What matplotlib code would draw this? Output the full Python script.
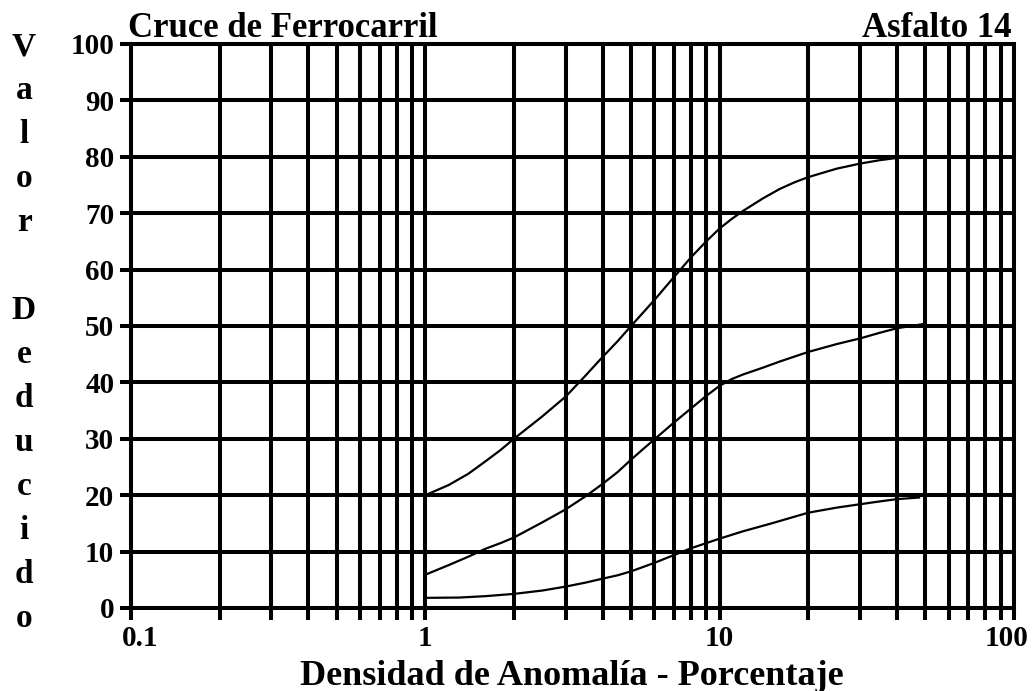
import matplotlib
matplotlib.use("Agg")
import matplotlib.pyplot as plt
from matplotlib.ticker import FixedLocator, NullFormatter, FixedFormatter
from matplotlib.transforms import ScaledTranslation

# Deduct-value curves (density % vs. deduct value)
x_high = [1, 1.2, 1.4, 1.6, 1.8, 2, 2.5, 3, 3.5, 4, 4.5, 5, 6, 7, 8, 9, 10,
          11, 12, 14, 16, 18, 20, 25, 30, 35, 40]
y_high = [20, 21.8, 23.8, 26, 28, 30, 34, 37.5, 41.2, 44.5, 47.3, 50, 54.6, 58.7, 62.2, 65, 67.3,
          69, 70.4, 72.6, 74.3, 75.5, 76.4, 77.9, 78.8, 79.4, 79.8]

x_medium = [1, 1.2, 1.4, 1.6, 1.8, 2, 2.5, 3, 3.5, 4, 4.5, 5, 5.5, 6, 7, 8, 9, 10,
            11, 12, 14, 16, 20, 25, 30, 35, 40, 50]
y_medium = [5.9, 7.6, 9.1, 10.5, 11.5, 12.5, 15.2, 17.5, 19.8, 22, 24.1, 26.3, 28.2, 29.9, 32.9, 35.4, 37.6, 39.4,
            40.6, 41.4, 42.6, 43.7, 45.4, 46.8, 47.8, 48.8, 49.6, 50.4]

x_low = [1, 1.3, 1.6, 2, 2.5, 3, 3.5, 4, 4.5, 5, 6, 7, 8, 9, 10,
         12, 15, 20, 25, 30, 35, 40, 48]
y_low = [1.8, 1.85, 2.1, 2.5, 3.1, 3.8, 4.5, 5.2, 5.8, 6.5, 8.0, 9.4, 10.6, 11.5, 12.3,
         13.6, 15.0, 16.9, 17.8, 18.4, 18.9, 19.3, 19.6]

x_major = [0.1, 1, 10, 100]
x_major_labels = ["0.1", "1", "10", "100"]
x_minor = [m * d for d in (0.1, 1, 10) for m in range(2, 10)]
y_major = list(range(0, 101, 10))

title_left = "Cruce de Ferrocarril"
title_right = "Asfalto 14"
x_title = "Densidad de Anomalía - Porcentaje"
y_title = "Valor Deducido"

FONT = "Liberation Serif"
W, H = 1034, 691
fig = plt.figure(figsize=(W / 100, H / 100), dpi=100)
ax = fig.add_axes([131 / W, 1 - 608 / H, (1014 - 131) / W, (608 - 44) / H])

GRID_LW = 2.9
ax.set_xscale("log")
ax.set_xlim(0.1, 100)
ax.set_ylim(0, 100)

ax.xaxis.set_major_locator(FixedLocator(x_major))
ax.xaxis.set_major_formatter(FixedFormatter(x_major_labels))
ax.xaxis.set_minor_locator(FixedLocator(x_minor))
ax.xaxis.set_minor_formatter(NullFormatter())
ax.yaxis.set_major_locator(FixedLocator(y_major))
ax.yaxis.set_minor_locator(FixedLocator([]))

ax.grid(True, which="both", axis="x", color="black", linewidth=GRID_LW)
ax.grid(True, which="major", axis="y", color="black", linewidth=GRID_LW)
ax.set_axisbelow(True)

for s in ax.spines.values():
    s.set_linewidth(GRID_LW)
    s.set_color("black")

ax.tick_params(axis="x", which="both", direction="out", length=8.6, width=GRID_LW,
               pad=4, labelsize=21)
ax.tick_params(axis="y", which="major", direction="out", length=8, width=GRID_LW,
               pad=4, labelsize=21)
for lab in ax.get_xticklabels() + ax.get_yticklabels():
    lab.set_fontfamily(FONT)
    lab.set_fontweight("bold")

# nudge the end labels inward
xl = ax.get_xticklabels()
xl[0].set_transform(xl[0].get_transform() + ScaledTranslation(9 / 100, 0, fig.dpi_scale_trans))
xl[-1].set_transform(xl[-1].get_transform() + ScaledTranslation(-7 / 100, 0, fig.dpi_scale_trans))

for xs, ys in ((x_high, y_high), (x_medium, y_medium), (x_low, y_low)):
    ax.plot(xs, ys, color="black", linewidth=1.6, solid_joinstyle="round",
            solid_capstyle="butt", zorder=3)

tfont = dict(family=FONT, weight="bold", color="black")
fig.text(128 / W, 1 - 37 / H, title_left, ha="left", va="baseline", fontsize=25, **tfont)
fig.text(1012 / W, 1 - 37 / H, title_right, ha="right", va="baseline", fontsize=25, **tfont)
fig.text(572 / W, 1 - 685 / H, x_title, ha="center", va="baseline", fontsize=26, **tfont)

# vertical axis title, one letter per line
row = 0
for ch in y_title:
    if ch != " ":
        fig.text(24 / W, 1 - (55 + 44 * row) / H, ch, ha="center", va="baseline",
                 fontsize=24, **tfont)
    row += 1

fig.savefig("out.png", dpi=100)
